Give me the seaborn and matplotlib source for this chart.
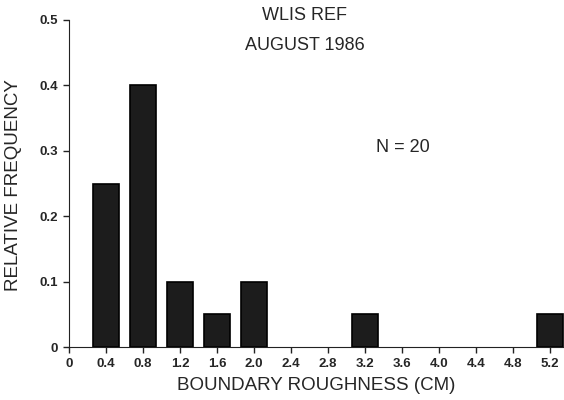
import pandas as pd
import numpy as np
import matplotlib
matplotlib.use('Agg')
import matplotlib.pyplot as plt
import seaborn as sns

# data
roughness = [0.4, 0.8, 1.2, 1.6, 2.0, 3.2, 5.2]
rel_freq = [0.25, 0.40, 0.10, 0.05, 0.10, 0.05, 0.05]
x_ticks = [0, 0.4, 0.8, 1.2, 1.6, 2.0, 2.4, 2.8, 3.2, 3.6, 4.0, 4.4, 4.8, 5.2]
x_tick_labels = ['0'] + [f'{t:.1f}' for t in x_ticks[1:]]
y_ticks = [0, 0.1, 0.2, 0.3, 0.4, 0.5]
y_tick_labels = ['0', '0.1', '0.2', '0.3', '0.4', '0.5']

df = pd.DataFrame({'roughness': roughness, 'freq': rel_freq})

sns.set_style('ticks')
plt.rcParams['font.family'] = ['Liberation Sans', 'DejaVu Sans']

fig = plt.figure(figsize=(5.64, 4.0), dpi=100)
ax = fig.add_axes([69 / 564, 1 - 347 / 400, 1 - 69 / 564, (347 - 20) / 400])

sns.barplot(data=df, x='roughness', y='freq', native_scale=True, width=0.7,
            color='#1c1c1c', edgecolor='black', linewidth=1.2, saturation=1,
            ax=ax)

ax.set_xlim(0.043, 5.35)
ax.set_ylim(0, 0.5)
ax.set_xticks(x_ticks)
ax.set_xticklabels(x_tick_labels, fontsize=9.5, fontweight='bold')
ax.set_yticks(y_ticks)
ax.set_yticklabels(y_tick_labels, fontsize=9.5, fontweight='bold')
ax.tick_params(axis='both', length=4, width=1, color='#222222', pad=4)
sns.despine(ax=ax)
ax.spines['left'].set_color('#222222')
ax.spines['bottom'].set_color('#222222')

ax.set_xlabel('BOUNDARY ROUGHNESS (CM)', fontsize=13.5, labelpad=5)
ax.set_ylabel('RELATIVE FREQUENCY', fontsize=13.5)
ax.yaxis.set_label_coords(-(69 - 22) / (564 - 69), (347 - 185) / 327)

fig.text(305 / 564, 1 - 15 / 400, 'WLIS REF', ha='center', va='center', fontsize=13)
fig.text(305 / 564, 1 - 45 / 400, 'AUGUST 1986', ha='center', va='center', fontsize=13)
fig.text(403 / 564, 1 - 148 / 400, 'N = 20', ha='center', va='center', fontsize=13)

fig.savefig('out.png', dpi=100, facecolor='white')
